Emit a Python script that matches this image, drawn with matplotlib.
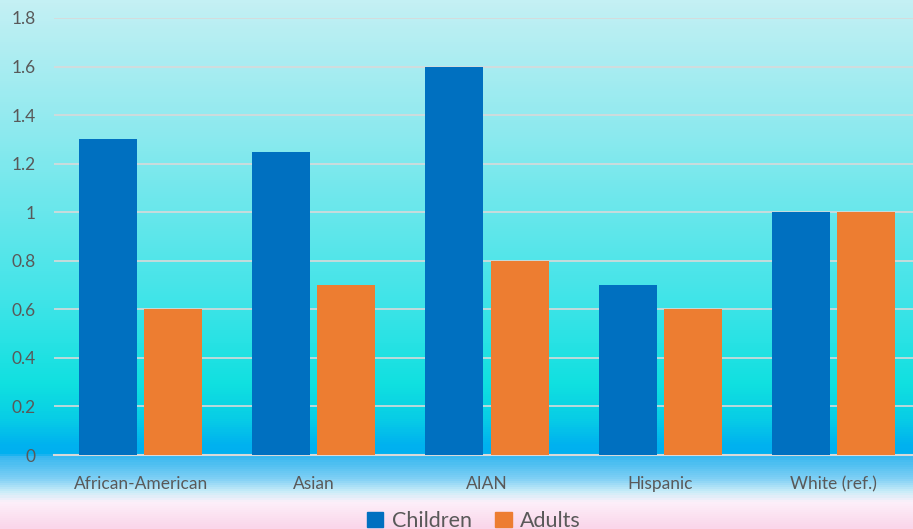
import numpy as np
import matplotlib
matplotlib.use("Agg")
import matplotlib.pyplot as plt
from matplotlib.colors import LinearSegmentedColormap, to_rgb
from matplotlib.patches import Patch

# values
categories = ["African-American", "Asian", "AIAN", "Hispanic", "White (ref.)"]
children = [1.3, 1.25, 1.6, 0.7, 1.0]
adults = [0.6, 0.7, 0.8, 0.6, 1.0]
yticks = [0, 0.2, 0.4, 0.6, 0.8, 1, 1.2, 1.4, 1.6, 1.8]
ytick_labels = ["0", "0.2", "0.4", "0.6", "0.8", "1", "1.2", "1.4", "1.6", "1.8"]

plt.rcParams['font.family'] = ['Lato', 'DejaVu Sans']
W, H = 913, 529
fig = plt.figure(figsize=(W / 100, H / 100), dpi=100)

# vertical background gradient (pixel row from top, colour)
stops = [(0, "#c4f0f4"), (120, "#92eaef"), (300, "#40e4e8"), (385, "#10e0e0"),
         (420, "#08cde6"), (445, "#00b2ef"), (455, "#00b0f0"), (458, "#38b8f0"),
         (480, "#80d0f5"), (493, "#c8ecf8"), (503, "#fdf0fa"), (529, "#fad6ea")]
cmap = LinearSegmentedColormap.from_list(
    "bg", [(p / H, to_rgb(c)) for p, c in stops])
bg = fig.add_axes([0, 0, 1, 1])
bg.imshow(np.linspace(0, 1, H).reshape(-1, 1), aspect="auto", cmap=cmap,
          extent=[0, 1, 0, 1], origin="upper")
bg.axis("off")
bg.set_zorder(0)

ax = fig.add_axes([54 / W, 74 / H, 866 / W, 437 / H])
ax.set_zorder(1)
ax.patch.set_alpha(0)

x = np.arange(len(categories))
w = 0.335
ax.bar(x - 0.188, children, w, color="#0070c0", zorder=3)
ax.bar(x + 0.188, adults, w, color="#ed7d31", zorder=3)

ax.set_xlim(-0.5, len(categories) - 0.5)
ax.set_ylim(0, 1.8)
ax.set_yticks(yticks)
ax.set_yticklabels(ytick_labels)
ax.set_xticks(x)
ax.set_xticklabels(categories)
ax.tick_params(length=0, labelsize=12.5, labelcolor="#595959")
ax.tick_params(axis="y", pad=13)
ax.tick_params(axis="x", pad=15)
ax.grid(axis="y", color="#d9d9d9", linewidth=1.2, zorder=0)
for s in ["top", "right", "left"]:
    ax.spines[s].set_visible(False)
ax.spines["bottom"].set_color("#d9d9d9")
ax.spines["bottom"].set_linewidth(1.5)

# legend sits at the bottom edge, partly clipped as in the reference
handles = [Patch(color="#0070c0", label="Children"),
           Patch(color="#ed7d31", label="Adults")]
fig.legend(handles=handles, loc="center", bbox_to_anchor=(474 / W, 8 / H),
           ncol=2, frameon=False, fontsize=15.5, handlelength=0.75,
           handleheight=0.75, handletextpad=0.4, columnspacing=1.1,
           labelcolor="#595959")

fig.savefig("out.png", dpi=100)
